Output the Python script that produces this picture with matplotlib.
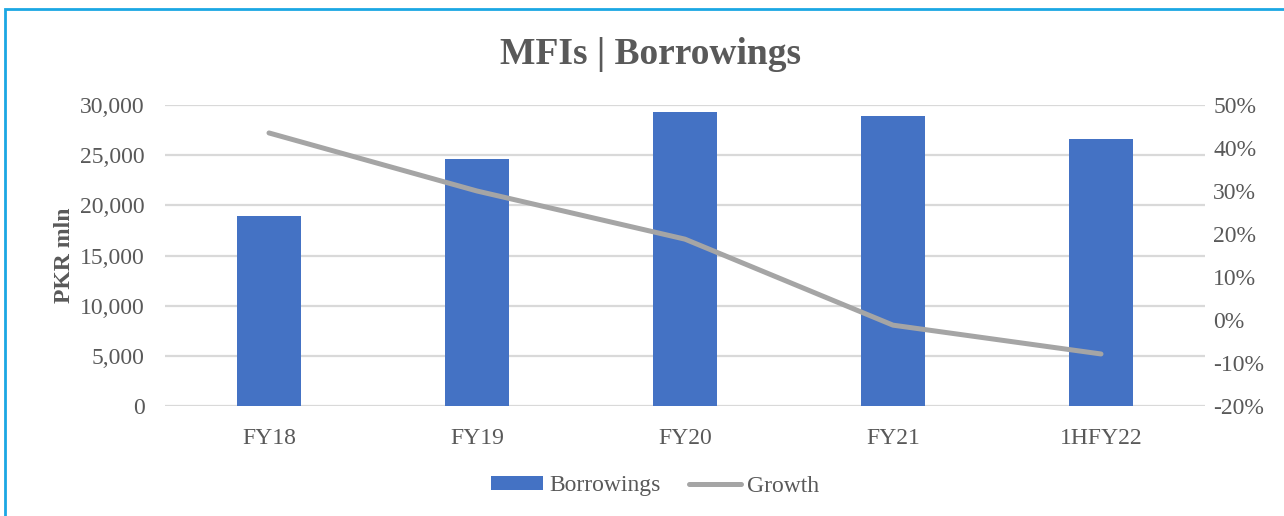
import matplotlib.pyplot as plt
from matplotlib.patches import Rectangle
from matplotlib.ticker import FuncFormatter, MultipleLocator

plt.rcParams['font.family'] = ['Liberation Serif', 'DejaVu Serif']

periods = ['FY18', 'FY19', 'FY20', 'FY21', '1HFY22']
borrowings = [18900, 24600, 29300, 28900, 26600]
growth = [43.5, 30.0, 18.8, -1.2, -7.9]

text_col = '#595959'
bar_col = '#4472C4'
line_col = '#A5A5A5'
grid_col = '#D9D9D9'

fig = plt.figure(figsize=(12.84, 5.16), dpi=100)
fig.patches.append(Rectangle((5 / 1284, -0.1), 1.2, (516 - 9) / 516 + 0.1,
                             transform=fig.transFigure, fill=False,
                             edgecolor='#1BA7E3', linewidth=2))

ax = fig.add_axes([165 / 1284, 1 - 406 / 516, 1040 / 1284, 301 / 516])
x = range(len(periods))
bars = ax.bar(x, borrowings, width=0.31, color=bar_col, label='Borrowings', zorder=2)
ax.set_xlim(-0.5, len(periods) - 0.5)
ax.set_ylim(0, 30000)
ax.yaxis.set_major_locator(MultipleLocator(5000))
ax.yaxis.set_major_formatter(FuncFormatter(lambda v, p: f'{v:,.0f}'))
ax.grid(axis='y', color=grid_col, linewidth=1.6, zorder=0)
ax.set_axisbelow(True)
for s in ax.spines.values():
    s.set_visible(False)
ax.tick_params(length=0, labelsize=17, labelcolor=text_col)
ax.tick_params(axis='y', pad=14.5)
ax.tick_params(axis='x', pad=16)
ax.set_xticks(list(x))
ax.set_xticklabels(periods)
ax.set_ylabel('PKR mln', fontsize=17, fontweight='bold', color=text_col, labelpad=4)

ax2 = ax.twinx()
ln, = ax2.plot(x, growth, color=line_col, linewidth=3.6, solid_capstyle='round',
               label='Growth', zorder=3)
ax2.set_ylim(-20, 50)
ax2.yaxis.set_major_locator(MultipleLocator(10))
ax2.yaxis.set_major_formatter(FuncFormatter(lambda v, p: f'{v:.0f}%'))
for s in ax2.spines.values():
    s.set_visible(False)
ax2.tick_params(length=0, labelsize=17, labelcolor=text_col, pad=6)

fig.text(651 / 1284, 1 - 55 / 516, 'MFIs | Borrowings', ha='center', va='center',
         fontsize=27, fontweight='bold', color=text_col)

leg = fig.legend([bars, ln], ['Borrowings', 'Growth'], loc='center',
                 bbox_to_anchor=(655 / 1284, 1 - 486 / 516), ncol=2, frameon=False,
                 fontsize=17, handlelength=2.2, handleheight=0.5,
                 handletextpad=0.25, columnspacing=1.2)
for t in leg.get_texts():
    t.set_color(text_col)

fig.savefig('out.png', dpi=100)
